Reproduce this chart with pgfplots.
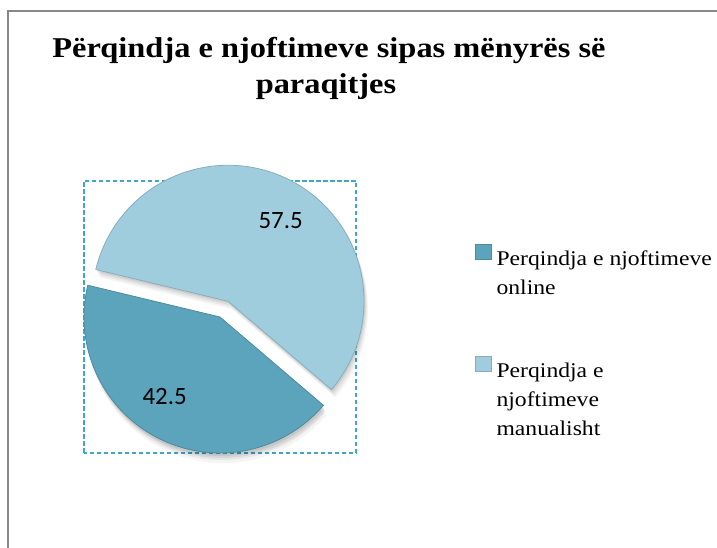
\documentclass[border=0pt]{standalone}
\usepackage{fontspec}
\setmainfont{Liberation Serif}[FakeStretch=1.13]
\newfontfamily\labelfont{Carlito}
\usepackage{pgfplots}
\usepackage{pgfplotstable}
\pgfplotsset{compat=1.18}

\definecolor{online}{HTML}{5BA4BB}
\definecolor{manual}{HTML}{A0CDDE}
\definecolor{plotborder}{HTML}{3FA8C8}
\definecolor{framegray}{HTML}{888888}

% shares in percent, explode in axis units
\pgfplotstableread{
share explode
42.5  0
57.5  0.13
}\piedata

\pgfplotstablegetelem{0}{share}\of\piedata \let\shareA\pgfplotsretval
\pgfplotstablegetelem{1}{share}\of\piedata \let\shareB\pgfplotsretval
\pgfplotstablegetelem{0}{explode}\of\piedata \let\explA\pgfplotsretval
\pgfplotstablegetelem{1}{explode}\of\piedata \let\explB\pgfplotsretval

\pgfmathsetmacro\startA{166.5}
\pgfmathsetmacro\endA{\startA+3.6*\shareA}
\pgfmathsetmacro\endB{\endA+3.6*\shareB}
\pgfmathsetmacro\midA{(\startA+\endA)/2}
\pgfmathsetmacro\midB{(\endA+\endB)/2}
\pgfmathsetmacro\cxA{\explA*cos(\midA)}
\pgfmathsetmacro\cyA{\explA*sin(\midA)}
\pgfmathsetmacro\cxB{\explB*cos(\midB)}
\pgfmathsetmacro\cyB{\explB*sin(\midB)}

% slice outlines
\newcommand\sliceA{(axis cs:\cxA,\cyA) -- (axis cs:{\cxA+cos(\startA)},{\cyA+sin(\startA)})
    arc[start angle=\startA, end angle=\endA, radius=1] -- cycle}
\newcommand\sliceB{(axis cs:\cxB,\cyB) -- (axis cs:{\cxB+cos(\endA)},{\cyB+sin(\endA)})
    arc[start angle=\endA, end angle=\endB, radius=1] -- cycle}

\begin{document}
\begin{tikzpicture}
\useasboundingbox (0,0) rectangle (717bp,548bp);
% outer frame
\draw[framegray, line width=2bp] (7.5bp,0) -- (7.5bp,537bp) -- (717bp,537bp);
% title
\node[anchor=base, inner sep=0pt, font=\fontsize{28.8}{36}\selectfont\bfseries] at (329bp,490bp) {Përqindja e njoftimeve sipas mënyrës së};
\node[anchor=base, inner sep=0pt, font=\fontsize{28.8}{36}\selectfont\bfseries] at (326bp,454bp) {paraqitjes};

\begin{axis}[
    at={(84bp,95bp)}, anchor=south west,
    width=272bp, height=272bp, scale only axis,
    xmin=-1, xmax=1, ymin=-1, ymax=1,
    xtick=\empty, ytick=\empty,
    axis line style={dash pattern=on 4.5bp off 2.5bp, plotborder, line width=1.4bp},
    clip=false,
    legend cell align=left,
    legend style={at={(1.4375,0.77)}, anchor=north west, draw=none, fill=none,
        inner sep=0pt, row sep=89bp, column sep=5bp,
        font=\fontsize{21}{29}\selectfont,
        nodes={inner sep=0pt}},
]
% soft shadow
\fill[black, opacity=0.04, shift={(3bp,-10bp)}] \sliceA;
\fill[black, opacity=0.06, shift={(2bp,-7bp)}] \sliceA;
\fill[black, opacity=0.07, shift={(2bp,-5bp)}] \sliceA;
\fill[black, opacity=0.08, shift={(1bp,-3bp)}] \sliceA;
\fill[black, opacity=0.04, shift={(4bp,-8bp)}] \sliceB;
\fill[black, opacity=0.05, shift={(3bp,-6bp)}] \sliceB;
\fill[black, opacity=0.06, shift={(2bp,-4bp)}] \sliceB;
\fill[black, opacity=0.07, shift={(1bp,-2bp)}] \sliceB;
% slices
\fill[online, draw=online!85!black, line width=0.8bp] \sliceA;
\fill[manual, draw=manual!85!black, line width=0.8bp] \sliceB;
% data labels
\node[font=\labelfont\fontsize{25}{30}\selectfont]
    at (axis cs:{\cxA+0.71*cos(\midA-8)},{\cyA+0.71*sin(\midA-8)}) {\shareA};
\node[font=\labelfont\fontsize{25}{30}\selectfont]
    at (axis cs:{\cxB+0.71*cos(\midB-6)},{\cyB+0.71*sin(\midB-6)}) {\shareB};

\addlegendimage{legend image code/.code={\fill[online, draw=online!85!black] (0bp,0bp) rectangle (16bp,15bp);}}
\addlegendentry{\parbox[t]{240bp}{Perqindja e njoftimeve\\online}}
\addlegendimage{legend image code/.code={\fill[manual, draw=manual!85!black] (0bp,0bp) rectangle (16bp,15bp);}}
\addlegendentry{\parbox[t]{240bp}{Perqindja e\\njoftimeve\\manualisht}}
\end{axis}
\end{tikzpicture}
\end{document}
